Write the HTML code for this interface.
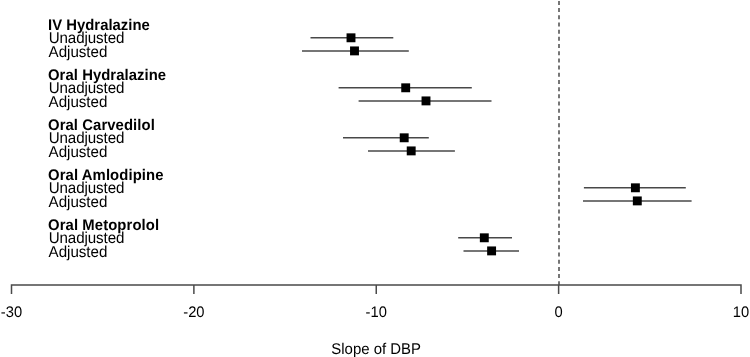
<!DOCTYPE html>
<html><head><meta charset="utf-8"><title>Slope of DBP forest plot</title><style>
html,body{margin:0;padding:0;background:#fff;}
svg{display:block;will-change:transform;}
text{font-family:"Liberation Sans",sans-serif;text-rendering:geometricPrecision;fill:#000;}
</style></head><body>
<svg width="750" height="357" viewBox="0 0 750 357">
<rect width="750" height="357" fill="#fff"/>
<line x1="559" y1="0" x2="559" y2="285" stroke="#4a4a4a" stroke-width="1.5" stroke-dasharray="4 3.19" stroke-dashoffset="-0.9"/>
<text transform="translate(48.00 30.00) scale(1 1.0405)" font-weight="bold" style="font-size:14.85px;letter-spacing:0.023px">IV Hydralazine</text>
<text transform="translate(48.70 43.00) scale(1 1.0405)" style="font-size:15.15px;letter-spacing:-0.100px">Unadjusted</text>
<text transform="translate(48.60 57.00) scale(1 1.0405)" style="font-size:15.15px;letter-spacing:-0.030px">Adjusted</text>
<line x1="310.50" y1="37.80" x2="393.30" y2="37.80" stroke="#484848" stroke-width="1.45"/>
<rect x="346.55" y="33.35" width="8.90" height="8.90"/>
<line x1="302.00" y1="50.90" x2="408.80" y2="50.90" stroke="#484848" stroke-width="1.45"/>
<rect x="350.05" y="46.45" width="8.90" height="8.90"/>
<text transform="translate(48.00 80.00) scale(1 1.0405)" font-weight="bold" style="font-size:14.85px;letter-spacing:0.060px">Oral Hydralazine</text>
<text transform="translate(48.70 93.00) scale(1 1.0405)" style="font-size:15.15px;letter-spacing:-0.100px">Unadjusted</text>
<text transform="translate(48.60 107.00) scale(1 1.0405)" style="font-size:15.15px;letter-spacing:-0.030px">Adjusted</text>
<line x1="338.60" y1="87.80" x2="471.80" y2="87.80" stroke="#484848" stroke-width="1.45"/>
<rect x="401.25" y="83.35" width="8.90" height="8.90"/>
<line x1="358.60" y1="100.90" x2="491.50" y2="100.90" stroke="#484848" stroke-width="1.45"/>
<rect x="421.55" y="96.45" width="8.90" height="8.90"/>
<text transform="translate(48.00 130.00) scale(1 1.0405)" font-weight="bold" style="font-size:14.85px;letter-spacing:0.086px">Oral Carvedilol</text>
<text transform="translate(48.70 143.00) scale(1 1.0405)" style="font-size:15.15px;letter-spacing:-0.100px">Unadjusted</text>
<text transform="translate(48.60 157.00) scale(1 1.0405)" style="font-size:15.15px;letter-spacing:-0.030px">Adjusted</text>
<line x1="343.00" y1="137.80" x2="428.80" y2="137.80" stroke="#484848" stroke-width="1.45"/>
<rect x="399.75" y="133.35" width="8.90" height="8.90"/>
<line x1="368.00" y1="150.90" x2="454.90" y2="150.90" stroke="#484848" stroke-width="1.45"/>
<rect x="406.75" y="146.45" width="8.90" height="8.90"/>
<text transform="translate(48.00 180.00) scale(1 1.0405)" font-weight="bold" style="font-size:14.85px;letter-spacing:0.100px">Oral Amlodipine</text>
<text transform="translate(48.70 193.00) scale(1 1.0405)" style="font-size:15.15px;letter-spacing:-0.100px">Unadjusted</text>
<text transform="translate(48.60 207.00) scale(1 1.0405)" style="font-size:15.15px;letter-spacing:-0.030px">Adjusted</text>
<line x1="583.90" y1="187.80" x2="685.80" y2="187.80" stroke="#484848" stroke-width="1.45"/>
<rect x="630.95" y="183.35" width="8.90" height="8.90"/>
<line x1="583.00" y1="200.90" x2="691.60" y2="200.90" stroke="#484848" stroke-width="1.45"/>
<rect x="632.85" y="196.45" width="8.90" height="8.90"/>
<text transform="translate(48.00 230.00) scale(1 1.0405)" font-weight="bold" style="font-size:14.85px;letter-spacing:0.100px">Oral Metoprolol</text>
<text transform="translate(48.70 243.00) scale(1 1.0405)" style="font-size:15.15px;letter-spacing:-0.100px">Unadjusted</text>
<text transform="translate(48.60 257.00) scale(1 1.0405)" style="font-size:15.15px;letter-spacing:-0.030px">Adjusted</text>
<line x1="458.20" y1="237.80" x2="512.00" y2="237.80" stroke="#484848" stroke-width="1.45"/>
<rect x="479.85" y="233.35" width="8.90" height="8.90"/>
<line x1="463.50" y1="250.90" x2="519.00" y2="250.90" stroke="#484848" stroke-width="1.45"/>
<rect x="487.15" y="246.45" width="8.90" height="8.90"/>
<path d="M11.50 294V285H741.00V294" fill="none" stroke="#4a4a4a" stroke-width="1.5"/>
<line x1="193.88" y1="285" x2="193.88" y2="294" stroke="#4a4a4a" stroke-width="1.5"/>
<line x1="376.25" y1="285" x2="376.25" y2="294" stroke="#4a4a4a" stroke-width="1.5"/>
<line x1="558.62" y1="285" x2="558.62" y2="294" stroke="#4a4a4a" stroke-width="1.5"/>
<text transform="translate(0.84 317.00) scale(1 1.0405)" style="font-size:14.75px">-30</text>
<text transform="translate(183.22 317.00) scale(1 1.0405)" style="font-size:14.75px">-20</text>
<text transform="translate(365.59 317.00) scale(1 1.0405)" style="font-size:14.75px">-10</text>
<text transform="translate(554.52 317.00) scale(1 1.0405)" style="font-size:14.75px">0</text>
<text transform="translate(732.80 317.00) scale(1 1.0405)" style="font-size:14.75px">10</text>
<text transform="translate(331.32 354.00) scale(1 1.0405)" style="font-size:14.95px">Slope of DBP</text>
</svg>
</body></html>
